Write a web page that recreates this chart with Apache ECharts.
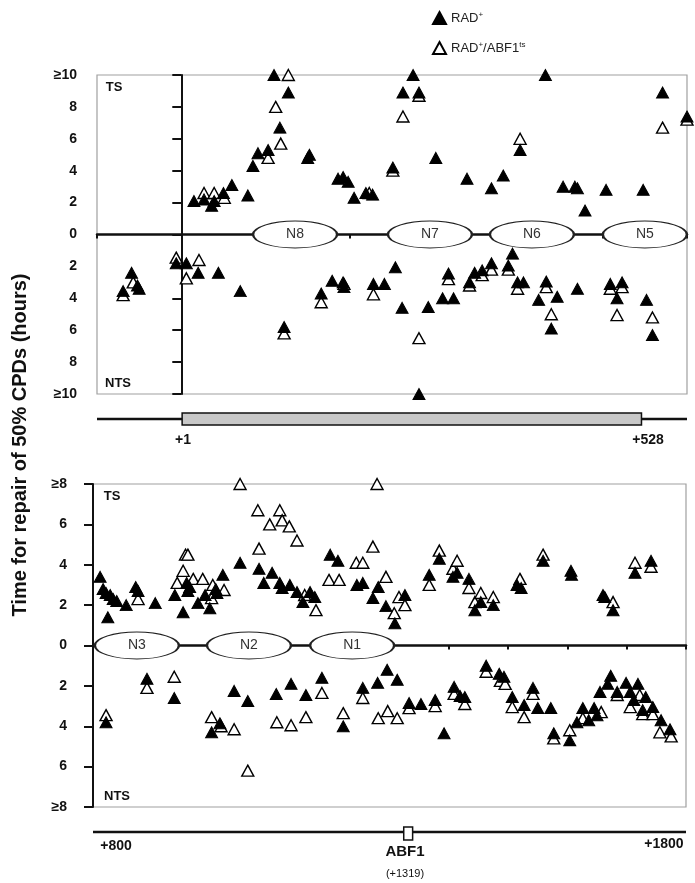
<!DOCTYPE html>
<html><head><meta charset="utf-8">
<script src="https://cdn.jsdelivr.net/npm/echarts@6/dist/echarts.min.js"></script>
<style>html,body{margin:0;padding:0;background:#fff}#c{width:695px;height:883px}</style>
</head><body><div id="c"></div>
<script>
// ---------- DATA (x = position in bp, y = hours; + = TS strand, - = NTS strand) ----------
const seriesNames = ['RAD+', 'RAD+/ABF1ts'];

// Top panel (-100 .. +600)
const topFilled = [
 [15,2.1],[27,2.2],[36,1.8],[39,2.1],[50,2.6],[60,3.1],[79,2.45],[85,4.3],[91,5.1],[103,5.3],[110,10],[117,6.7],[127,8.9],
 [150,4.8],[152,5.0],[186,3.5],[192,3.6],[198,3.3],[205,2.3],[219,2.6],[227,2.5],[251,4.2],[263,8.9],[275,10],[282,8.9],
 [302,4.8],[339,3.5],[368,2.9],[382,3.7],[402,5.3],[432,10],[453,3.0],[467,3.0],[470,2.9],[479,1.5],[504,2.8],[548,2.8],
 [571,8.9],[600,7.4],
 [-69,-3.55],[-59,-2.4],[-52,-3.2],[-50,-3.4],[-6,-1.8],[6,-1.8],[20,-2.4],[44,-2.4],[70,-3.55],[122,-5.8],[166,-3.7],
 [179,-2.9],[192,-3.0],[193,-3.3],[228,-3.1],[241,-3.1],[254,-2.05],[262,-4.6],[282,-10],[293,-4.55],[310,-4.0],[317,-2.45],
 [323,-4.0],[342,-3.0],[348,-2.4],[357,-2.25],[368,-1.8],[388,-1.95],[393,-1.2],[399,-3.0],[406,-3.0],[424,-4.1],[433,-2.95],
 [439,-5.9],[446,-3.9],[470,-3.4],[509,-3.1],[517,-4.0],[523,-3.0],[552,-4.1],[559,-6.3]
];
const topOpen = [
 [27,2.6],[39,2.6],[51,2.3],[103,4.8],[112,8.0],[118,5.7],[127,10],[223,2.6],[251,4.0],[263,7.4],[282,8.7],[402,6.0],
 [571,6.7],[600,7.2],
 [-69,-3.8],[-57,-3.0],[-6,-1.45],[6,-2.75],[21,-1.6],[122,-6.2],[166,-4.25],[193,-3.1],[228,-3.75],[282,-6.5],[317,-2.8],
 [342,-3.2],[357,-2.55],[368,-2.2],[388,-2.2],[399,-3.4],[433,-3.3],[439,-5.0],[509,-3.4],[517,-5.05],[523,-3.3],[559,-5.2]
];

// Bottom panel (+800 .. +1800)
const botFilled = [
 [812,3.4],[817,2.8],[822,2.6],[825,1.4],[829,2.5],[834,2.3],[840,2.2],[856,2.0],[872,2.9],[876,2.7],[905,2.1],[938,2.5],
 [952,1.65],[958,3.1],[960,2.7],[963,2.9],[977,2.1],[989,2.5],[997,1.85],[1007,2.8],[1009,2.6],[1019,3.5],[1048,4.1],
 [1080,3.8],[1088,3.1],[1102,3.6],[1115,3.1],[1119,2.85],[1132,3.0],[1144,2.65],[1154,2.15],[1166,2.65],[1174,2.4],
 [1200,4.5],[1213,4.2],[1245,3.0],[1255,3.1],[1272,2.35],[1281,2.9],[1294,1.95],[1309,1.1],[1326,2.5],[1367,3.5],
 [1384,4.3],[1407,3.4],[1414,3.6],[1434,3.3],[1444,1.75],[1454,2.15],[1475,2.0],[1515,3.0],[1522,2.85],[1559,4.2],
 [1606,3.7],[1607,3.5],[1660,2.5],[1663,2.4],[1677,1.75],[1714,3.6],[1741,4.2],
 [822,-3.8],[891,-1.65],[937,-2.6],[1000,-4.3],[1014,-3.85],[1038,-2.25],[1061,-2.75],[1109,-2.4],[1134,-1.9],[1159,-2.45],
 [1186,-1.6],[1222,-4.0],[1255,-2.1],[1280,-1.85],[1296,-1.2],[1313,-1.7],[1333,-2.85],[1353,-2.9],[1377,-2.7],[1392,-4.35],
 [1409,-2.05],[1419,-2.5],[1427,-2.55],[1463,-1.0],[1485,-1.4],[1493,-1.55],[1507,-2.55],[1527,-2.95],[1542,-2.1],
 [1550,-3.1],[1572,-3.1],[1577,-4.35],[1604,-4.7],[1616,-3.8],[1626,-3.1],[1636,-3.7],[1645,-3.1],[1650,-3.45],[1655,-2.3],
 [1668,-1.9],[1673,-1.5],[1684,-2.3],[1699,-1.85],[1706,-2.3],[1712,-2.7],[1719,-1.9],[1727,-3.2],[1732,-2.55],
 [1744,-3.05],[1758,-3.7],[1773,-4.15]
];
const botOpen = [
 [876,2.3],[942,3.1],[952,3.7],[956,4.5],[960,4.5],[969,3.3],[985,3.3],[1000,2.35],[1002,3.0],[1021,2.75],[1048,8],
 [1078,6.7],[1080,4.8],[1098,6.0],[1115,6.7],[1119,6.2],[1131,5.9],[1144,5.2],[1157,2.5],[1176,1.75],[1198,3.25],
 [1215,3.25],[1244,4.1],[1255,4.1],[1272,4.9],[1279,8],[1294,3.4],[1308,1.6],[1316,2.4],[1326,2.0],[1367,3.0],[1384,4.7],
 [1407,3.8],[1414,4.2],[1434,2.85],[1444,2.15],[1454,2.6],[1475,2.4],[1520,3.3],[1559,4.5],[1677,2.15],[1714,4.1],[1741,3.9],
 [822,-3.45],[891,-2.1],[937,-1.55],[1000,-3.55],[1016,-4.0],[1038,-4.15],[1061,-6.2],[1110,-3.8],[1134,-3.95],[1159,-3.55],
 [1186,-2.35],[1222,-3.35],[1255,-2.6],[1281,-3.6],[1297,-3.25],[1313,-3.6],[1333,-3.1],[1377,-3.0],[1409,-2.4],[1427,-2.9],
 [1463,-1.3],[1487,-1.75],[1495,-1.9],[1507,-3.05],[1527,-3.55],[1542,-2.4],[1577,-4.6],[1604,-4.2],[1626,-3.6],[1657,-3.3],
 [1684,-2.45],[1706,-3.05],[1722,-2.45],[1727,-3.4],[1744,-3.4],[1756,-4.3],[1775,-4.5]
];

// Nucleosome positions (centres, bp)
const topNucleosomes = [[135,'N8'],[295,'N7'],[416,'N6'],[550,'N5']];
const botNucleosomes = [[874,'N3'],[1063,'N2'],[1237,'N1']];

// Gene map features (bp)
const topGene = [[1, 546]];
const abf1Site = [[1324, 1339]];

// Axis tick labels
const topMaxLabel = '≥10';
const botMaxLabel = '≥8';
// ------------------------------------------------------------------------------------------

const FONT = "Arial, 'Liberation Sans', sans-serif";
const chart = echarts.init(document.getElementById('c'), null, {renderer: 'canvas'});

function yAxisFor(gridIndex, lim, maxLabel, margin) {
  return {
    gridIndex, type: 'value', min: -lim, max: lim, interval: 2,
    axisLine: {show: true, lineStyle: {color: '#111', width: 2}},
    axisTick: {show: true, length: 9, lineStyle: {color: '#111', width: 2}},
    splitLine: {show: false},
    axisLabel: {
      margin, color: '#111', fontFamily: FONT, fontWeight: 'bold', fontSize: 14,
      formatter: v => Math.abs(v) === lim ? maxLabel : String(Math.abs(v))
    }
  };
}
function xAxisFor(gridIndex, min, max) {
  return {
    gridIndex, type: 'value', min, max, interval: 100,
    axisLine: {show: true, onZero: true, lineStyle: {color: '#111', width: 2.5}},
    axisTick: {show: true, length: 4, lineStyle: {color: '#111', width: 2}},
    axisLabel: {show: false}, splitLine: {show: false}
  };
}
function hiddenX(gridIndex, min, max) {
  return {gridIndex, type: 'value', min, max, show: false, splitLine: {show: false}};
}
function hiddenY(gridIndex) {
  return {gridIndex, type: 'value', min: 0, max: 1, show: false, splitLine: {show: false}};
}
const filledStyle = {color: '#000', borderColor: '#000', borderWidth: 1, opacity: 1};
const openStyle = {color: '#fff', borderColor: '#000', borderWidth: 1.4, opacity: 1};
function tri(name, xi, data, style, z) {
  return {
    name, type: 'scatter', xAxisIndex: xi, yAxisIndex: xi, data,
    symbol: 'triangle', symbolSize: [12, 11], itemStyle: style, z, clip: false
  };
}
function nuc(xi, data) {
  return {
    type: 'scatter', xAxisIndex: xi, yAxisIndex: xi, z: 2, silent: true,
    data: data.map(d => ({value: [d[0], 0], name: d[1]})),
    symbol: 'circle', symbolSize: [84, 27],
    itemStyle: {color: '#fff', borderColor: '#222', borderWidth: 1.4, opacity: 1},
    label: {show: true, position: 'inside', formatter: p => p.name, color: '#333', fontSize: 14, fontFamily: FONT}
  };
}
function geneLine(xi, min, max) {
  return {type: 'line', xAxisIndex: xi, yAxisIndex: xi, data: [[min, 0.5], [max, 0.5]],
    symbol: 'none', lineStyle: {color: '#111', width: 2.4}, z: 1, silent: true};
}
function geneBox(xi, data, fill, up, down) {
  return {
    type: 'custom', xAxisIndex: xi, yAxisIndex: xi, data, z: 3, silent: true,
    renderItem: (params, api) => {
      const s = api.coord([api.value(0), 0.5]);
      const e = api.coord([api.value(1), 0.5]);
      return {type: 'rect', shape: {x: s[0], y: s[1] - up, width: e[0] - s[0], height: up + down},
        style: {fill, stroke: '#111', lineWidth: 1.5}};
    }
  };
}
const txt = (x, y, text, size, weight, align) => ({
  type: 'text', x, y,
  style: {text, fill: '#111', font: `${weight || 'bold'} ${size}px ${FONT}`, align: align || 'center', verticalAlign: 'middle'}
});

chart.setOption({
  animation: false,
  backgroundColor: '#fff',
  grid: [
    {left: 97, right: 8, top: 75, height: 319, show: true, borderColor: '#a0a0a0', borderWidth: 1.2, backgroundColor: 'transparent'},
    {left: 93, right: 9, top: 484, height: 323, show: true, borderColor: '#a0a0a0', borderWidth: 1.2, backgroundColor: 'transparent'},
    {left: 97, right: 8, top: 405, height: 28},
    {left: 93, right: 9, top: 818, height: 28}
  ],
  xAxis: [xAxisFor(0, -100, 600), xAxisFor(1, 800, 1800), hiddenX(2, -100, 600), hiddenX(3, 800, 1800)],
  yAxis: [yAxisFor(0, 10, topMaxLabel, 20), yAxisFor(1, 8, botMaxLabel, 26), hiddenY(2), hiddenY(3)],
  legend: {
    orient: 'vertical', left: 427, top: 6, itemWidth: 13, itemHeight: 12, itemGap: 16,
    data: seriesNames,
    formatter: n => n === 'RAD+' ? 'RAD{s|+}' : 'RAD{s|+}/ABF1{s|ts}',
    textStyle: {fontFamily: FONT, fontSize: 13, color: '#222',
      rich: {s: {fontSize: 8, verticalAlign: 'top', lineHeight: 14, fontFamily: FONT, color: '#222'}}}
  },
  graphic: [
    txt(114, 87, 'TS', 13), txt(118, 383, 'NTS', 13),
    txt(112, 496, 'TS', 13), txt(117, 796, 'NTS', 13),
    txt(183, 440, '+1', 14), txt(648, 440, '+528', 14),
    txt(116, 846, '+800', 14), txt(664, 844, '+1800', 14),
    txt(405, 852, 'ABF1', 15), txt(405, 874, '(+1319)', 11, 'normal'),
    {type: 'text', x: 20, y: 445, rotation: Math.PI / 2,
     style: {text: 'Time for repair of 50% CPDs (hours)', fill: '#111', font: `bold 20px ${FONT}`, align: 'center', verticalAlign: 'middle'}}
  ],
  series: [
    nuc(0, topNucleosomes), nuc(1, botNucleosomes),
    tri(seriesNames[1], 0, topOpen, openStyle, 4),
    tri(seriesNames[0], 0, topFilled, filledStyle, 5),
    tri(seriesNames[1], 1, botOpen, openStyle, 4),
    tri(seriesNames[0], 1, botFilled, filledStyle, 5),
    geneLine(2, -100, 600), geneBox(2, topGene, '#c8c8c8', 6, 6),
    geneLine(3, 800, 1800), geneBox(3, abf1Site, '#fff', 5, 8)
  ]
});
</script></body></html>
